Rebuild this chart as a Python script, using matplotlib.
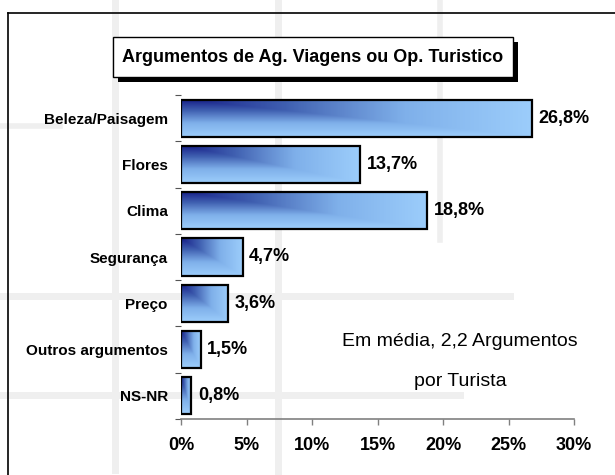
import numpy as np
import matplotlib
matplotlib.use("Agg")
import matplotlib.pyplot as plt
from matplotlib.colors import LinearSegmentedColormap
from matplotlib.patches import Rectangle
from matplotlib.lines import Line2D

categories = ["Beleza/Paisagem", "Flores", "Clima", "Segurança", "Preço",
              "Outros argumentos", "NS-NR"]
values = [26.8, 13.7, 18.8, 4.7, 3.6, 1.5, 0.8]
value_labels = ["26,8%", "13,7%", "18,8%", "4,7%", "3,6%", "1,5%", "0,8%"]
xticks = [0, 5, 10, 15, 20, 25, 30]
xtick_labels = ["0%", "5%", "10%", "15%", "20%", "25%", "30%"]
title = "Argumentos de Ag. Viagens ou Op. Turistico"
note_lines = ["Em média, 2,2 Argumentos", "por Turista"]

plt.rcParams['font.family'] = ['Liberation Sans', 'DejaVu Sans']

W, H = 615, 475
fig = plt.figure(figsize=(W / 100, H / 100), dpi=100)
fig.patch.set_facecolor("white")

# faint background watermark lines
bg = "#efefef"
for (x0, y0, x1, y1, lw) in [(115, 0, 115, 470, 5), (278, 0, 278, 475, 5),
                             (440, 0, 440, 240, 4), (0, 296, 510, 296, 5),
                             (0, 395, 460, 395, 5), (0, 126, 60, 126, 4)]:
    fig.add_artist(Line2D([x0 / W, x1 / W], [1 - y0 / H, 1 - y1 / H],
                          color=bg, lw=lw, zorder=0))

# figure frame (left and top)
fig.add_artist(Line2D([7.5 / W, 7.5 / W], [0, 1 - 12.5 / H], color="black", lw=1.2))
fig.add_artist(Line2D([7.5 / W, 1], [1 - 12.5 / H, 1 - 12.5 / H], color="black", lw=1.2))

ax = fig.add_axes([181 / W, 1 - 419 / H, (574 - 181) / W, (419 - 95) / H])
ax.patch.set_alpha(0)

cmap = LinearSegmentedColormap.from_list(
    "g", ["#141a85", "#3f5fb0", "#7fb0ea", "#9ccdfb"], N=256)

n = len(categories)
bh = 0.8
ypos = np.arange(n)
bars = ax.barh(ypos, values, height=bh, facecolor="none",
               edgecolor="black", linewidth=1.6, zorder=3)

nx, ny = 200, 60
xx, yy = np.meshgrid(np.linspace(0, 1, nx), np.linspace(0, 1, ny))
grad = np.maximum(xx, yy) ** 0.9
for i, (b, v) in enumerate(zip(bars, values)):
    im = ax.imshow(grad, cmap=cmap, aspect="auto", origin="upper",
                   extent=[0, v, i + bh / 2, i - bh / 2], zorder=2,
                   interpolation="bilinear")
    im.set_clip_path(b)
    ax.text(v + 0.5, i, value_labels[i], va="center", ha="left",
            fontsize=13, fontweight="bold")

ax.set_xlim(0, 30)
ax.set_ylim(n - 0.5, -0.5)
ax.set_yticks(np.arange(n + 1) - 0.5, minor=False)
ax.set_yticklabels([])
ax.set_yticks(ypos, minor=True)
ax.set_yticklabels(categories, minor=True, fontsize=11, fontweight="bold")
ax.tick_params(axis="y", which="minor", length=0, pad=9.5)
ax.tick_params(axis="y", which="major", length=4, color="#555555", width=0.8)
ax.set_xticks(xticks)
ax.set_xticklabels(xtick_labels, fontsize=13, fontweight="bold")
ax.tick_params(axis="x", length=4, color="#808080", width=1, pad=9)
for s in ["top", "right", "left"]:
    ax.spines[s].set_visible(False)
ax.spines["bottom"].set_color("#808080")
ax.spines["bottom"].set_linewidth(1.2)

# title box with shadow
tx0, tx1, ty0, ty1 = 113, 513, 37, 77
off = 5
fig.add_artist(Rectangle(((tx0 + off) / W, 1 - (ty1 + off) / H),
                         (tx1 - tx0) / W, (ty1 - ty0) / H,
                         facecolor="black", edgecolor="black", lw=0))
fig.add_artist(Rectangle((tx0 / W, 1 - ty1 / H), (tx1 - tx0) / W, (ty1 - ty0) / H,
                         facecolor="white", edgecolor="black", lw=1))
fig.text((tx0 + tx1) / 2 / W, 1 - (ty0 + ty1) / 2 / H, title,
         ha="center", va="center", fontsize=13, fontweight="bold")

fig.text(460 / W, 1 - 342 / H, note_lines[0], ha="center", va="center", fontsize=14)
fig.text(460 / W, 1 - 381 / H, note_lines[1], ha="center", va="center", fontsize=14)

fig.savefig("out.png", dpi=100)
